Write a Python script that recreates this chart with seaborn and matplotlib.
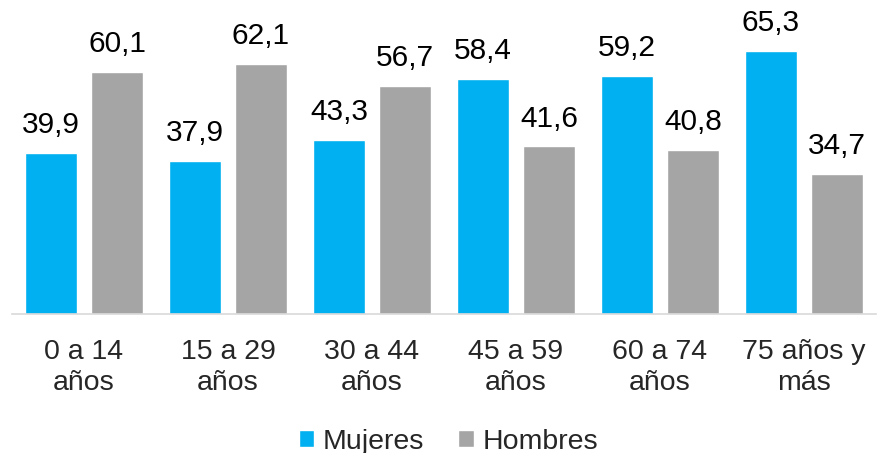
import matplotlib
matplotlib.use("Agg")
import matplotlib.pyplot as plt
import seaborn as sns
import pandas as pd

categories = ["0 a 14\naños", "15 a 29\naños", "30 a 44\naños", "45 a 59\naños", "60 a 74\naños", "75 años y\nmás"]
mujeres = [39.9, 37.9, 43.3, 58.4, 59.2, 65.3]
hombres = [60.1, 62.1, 56.7, 41.6, 40.8, 34.7]
series = ["Mujeres", "Hombres"]
colors = ["#00B0F0", "#A5A5A5"]

df = pd.DataFrame({
    "cat": categories * 2,
    "val": mujeres + hombres,
    "serie": [series[0]] * len(categories) + [series[1]] * len(categories),
})

sns.set_style("white")
plt.rcParams["font.family"] = ["Liberation Sans", "DejaVu Sans"]

fig = plt.figure(figsize=(8.88, 4.53), dpi=100)
ax = fig.add_axes([12 / 888, (453 - 314) / 453, 864 / 888, (314 - 32) / 453])

sns.barplot(data=df, x="cat", y="val", hue="serie", palette=colors, width=0.9167,
            gap=0.227, saturation=1, ax=ax, legend=True, errorbar=None)

ax.set_ylim(0, 70)
ax.set_xlim(-0.5, len(categories) - 0.5)
ax.set_xlabel("")
ax.set_ylabel("")
ax.set_yticks([])
for s in ["top", "right", "left"]:
    ax.spines[s].set_visible(False)
ax.spines["bottom"].set_color("#D9D9D9")
ax.spines["bottom"].set_linewidth(1.2)
ax.tick_params(axis="x", length=0, pad=18, labelsize=20.5)
for t in ax.get_xticklabels():
    t.set_linespacing(1.25)

for cont in ax.containers:
    labels = [f"{v:.1f}".replace(".", ",") for v in cont.datavalues]
    ax.bar_label(cont, labels=labels, padding=10, fontsize=21.5, color="#000000")

ax.get_legend().remove()
handles, labs = ax.get_legend_handles_labels()
fig.legend(handles, labs, loc="center", bbox_to_anchor=(0.505, 0.025), ncol=2, frameon=False,
           fontsize=20.5, handlelength=0.55, handleheight=0.55, handletextpad=0.3,
           columnspacing=1.2, borderpad=0)

fig.savefig("out.png", dpi=100)
